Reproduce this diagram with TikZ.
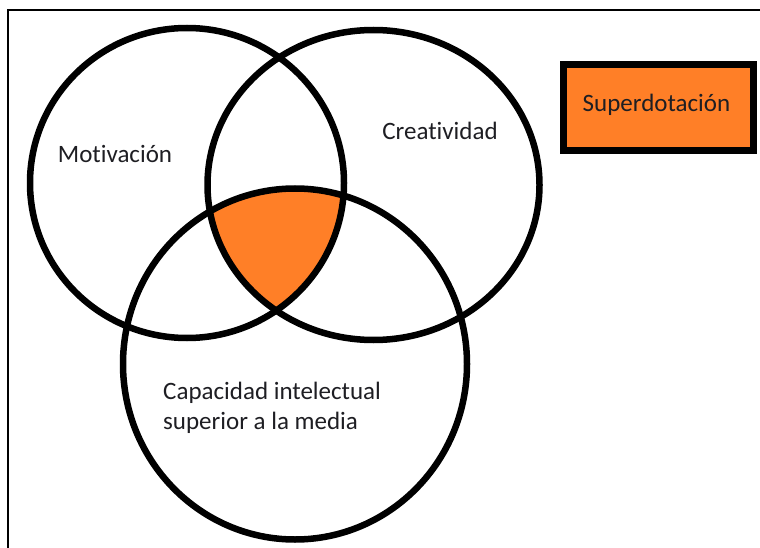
\documentclass[tikz,border=0pt]{standalone}
\usepackage{fontspec}
\setmainfont[Ligatures={NoCommon,NoContextual}]{Carlito}
\definecolor{vorange}{RGB}{255,127,39}
\definecolor{vtext}{RGB}{30,30,35}
\begin{document}
\begin{tikzpicture}[x=1pt,y=-1pt,
  venn/.style={draw=black,line width=6.5pt},
  lbl/.style={font=\fontsize{25}{30}\selectfont,text=vtext,inner sep=0pt}]
\useasboundingbox (0,0) rectangle (760,548);
\fill[white] (0,0) rectangle (760,548);
% frame
\draw[line width=1.5pt] (8,548) -- (8,10) -- (760,10);
% orange intersection
\begin{scope}
  \clip (187,183) ellipse [x radius=157, y radius=155];
  \clip (373.5,185) ellipse [x radius=166, y radius=155];
  \fill[vorange] (295,364) ellipse [x radius=172, y radius=175.5];
\end{scope}
% circles
\draw[venn] (187,183) ellipse [x radius=157, y radius=155];
\draw[venn] (373.5,185) ellipse [x radius=166, y radius=155];
\draw[venn] (295,364) ellipse [x radius=172, y radius=175.5];
% labels
\node[lbl,anchor=base] (mot) at (115,163) {Motivación};
\node[lbl,anchor=base] (cre) at (440,140) {Creatividad};
\node[lbl,anchor=base west] (cap1) at (163,399) {Capacidad intelectual};
\node[lbl,anchor=base west] (cap2) at (163,429) {superior a la media};
% legend box
\draw[line width=7pt,fill=vorange] (563.5,64.5) rectangle (753.5,150.5);
\node[lbl,anchor=base] (sup) at (656.5,112) {Superdotación};
\end{tikzpicture}
\end{document}
